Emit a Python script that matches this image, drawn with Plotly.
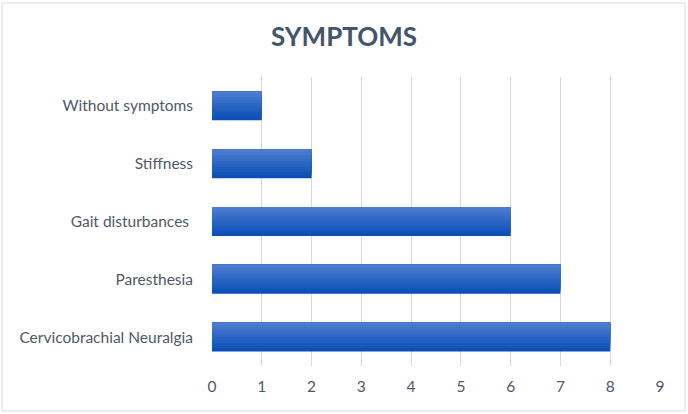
import plotly.graph_objects as go

# data, bottom category first (y axis goes upward)
symptoms = ["Cervicobrachial Neuralgia", "Paresthesia", "Gait disturbances ",
            "Stiffness", "Without symptoms"]
counts = [8, 7, 6, 2, 1]
x_ticks = list(range(0, 10))

W, H = 688, 414
m_l, m_r, m_t, m_b = 212, 28, 77, 48

bar_w = 0.5
n_bands = 10
dark, light = (10, 80, 182), (76, 124, 208)
txt = "#4F5868"


def mix(t):
    c = [round(d + (l - d) * t) for d, l in zip(dark, light)]
    return "rgb(%d,%d,%d)" % tuple(c)


fig = go.Figure()
# fake a vertical gradient: stacked overlays anchored at the bar top
for k in range(n_bands):
    w = bar_w * (n_bands - k) / n_bands
    fig.add_trace(go.Bar(
        x=counts, y=symptoms, orientation="h",
        width=w, offset=bar_w / 2 - w,
        marker=dict(color=mix(k / (n_bands - 1)), line=dict(width=0)),
        hoverinfo="x+y" if k == 0 else "skip",
        showlegend=False,
    ))

fig.update_layout(
    width=W, height=H,
    margin=dict(l=m_l, r=m_r, t=m_t, b=m_b),
    paper_bgcolor="white", plot_bgcolor="white",
    barmode="overlay",
    font=dict(family="Lato, Open Sans, sans-serif", color=txt, size=15),
    title=dict(text="<b>SYMPTOMS</b>", x=0.5, xref="container",
               xanchor="center", y=1 - 37 / H, yanchor="middle",
               font=dict(size=26, color="#44546A")),
    xaxis=dict(range=[0, 9], tickvals=x_ticks, showgrid=True,
               gridcolor="#D9D9D9", gridwidth=1, zeroline=False,
               showline=False, ticks="", ticklabelstandoff=9,
               tickfont=dict(size=15.5, color=txt)),
    yaxis=dict(categoryorder="array", categoryarray=symptoms,
               showgrid=False, zeroline=False, showline=False, ticks="",
               ticklabelstandoff=18,
               tickfont=dict(size=15.5, color=txt)),
)

# light frame round the whole chart
pw, ph = W - m_l - m_r, H - m_t - m_b
fig.add_shape(type="rect", xref="paper", yref="paper",
              x0=(2 - m_l) / pw, x1=(W - 3 - m_l) / pw,
              y0=-(m_b - 3) / ph, y1=1 + (m_t - 3) / ph,
              line=dict(color="#D9D9D9", width=1), fillcolor="rgba(0,0,0,0)",
              layer="below")

# drop the page's default body margin so the chart sits at 0,0
fig.write_html("out.html", config={"displayModeBar": False},
               post_script="document.body.style.margin='0';")
